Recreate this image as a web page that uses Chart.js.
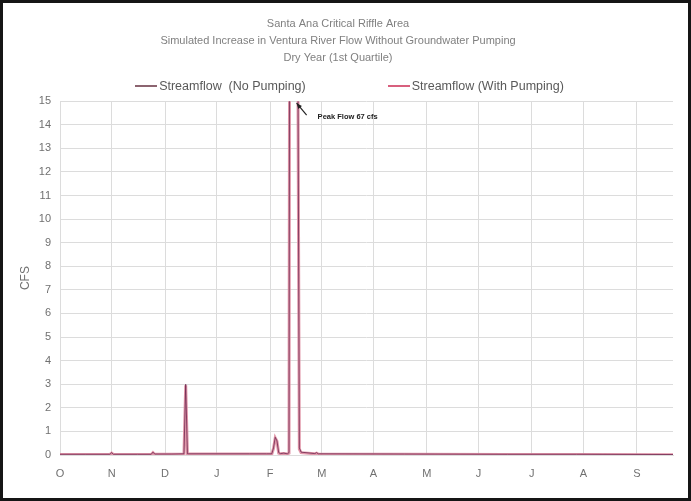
<!DOCTYPE html>
<html>
<head>
<meta charset="utf-8">
<script src="https://cdn.jsdelivr.net/npm/chart.js@4.4.1/dist/chart.umd.min.js"></script>
<style>
    html, body { margin: 0; padding: 0; background: #fff; }
    #frame {
        width: 691px; height: 501px; box-sizing: border-box;
        border: 3px solid #151515; background: #fff;
    }
    #wrap { position: relative; width: 685px; height: 495px; }
    #legend {
        position: absolute; left: 4px; top: 76px; width: 685px;
        display: flex; justify-content: center; gap: 82px;
        font: 12.5px 'Liberation Sans', Arial, sans-serif; color: #595959;
    }
    #legend .item { display: flex; align-items: center; }
    #legend .swatch { width: 22px; height: 2px; margin-right: 2px; }
</style>
</head>
<body>
<div id="frame">
    <div id="wrap">
        <canvas id="result"></canvas>
        <div id="legend"></div>
    </div>
</div>
<script>
// 标题
const titleLines = [
    'Santa Ana Critical Riffle Area',
    'Simulated Increase in Ventura River Flow Without Groundwater Pumping',
    'Dry Year (1st Quartile)'
];

// x 轴：从 10 月 1 日起的天数
const monthLabels = ['O', 'N', 'D', 'J', 'F', 'M', 'A', 'M', 'J', 'J', 'A', 'S'];
const tickDays = [0, 30, 61, 91, 122, 152, 182, 213, 243, 274, 304, 335];
const lastDay = 356;

// 数据点 (天, cfs)
const days = [0, 15, 29, 30, 31, 45, 53, 54, 55, 65, 72, 73, 74, 90, 110, 120, 123, 124, 125, 126, 127, 128,
    130, 132, 133, 134, 135, 136, 137, 138, 139, 140, 148, 149, 150, 200, 260, 300, 356];
const noPumping = [0.03, 0.03, 0.03, 0.1, 0.03, 0.03, 0.03, 0.12, 0.04, 0.04, 0.05, 3.0, 0.05, 0.05, 0.05, 0.05, 0.05, 0.3, 0.75, 0.6, 0.1, 0.06,
    0.08, 0.05, 0.1, 55, 67, 45, 30, 20, 0.3, 0.12, 0.06, 0.1, 0.05, 0.04, 0.03, 0.03, 0.02];
const withPumping = [0.02, 0.02, 0.02, 0.08, 0.02, 0.02, 0.02, 0.1, 0.03, 0.03, 0.04, 2.95, 0.04, 0.04, 0.04, 0.04, 0.04, 0.28, 0.72, 0.58, 0.08, 0.05,
    0.06, 0.04, 0.08, 54, 66, 44, 29, 19.5, 0.25, 0.1, 0.05, 0.08, 0.04, 0.03, 0.02, 0.02, 0.01];

const peakDay = 138;
const peakLabel = 'Peak Flow 67 cfs';

const seriesNames = ['Streamflow  (No Pumping)', 'Streamflow (With Pumping)'];
const seriesColors = ['rgba(110, 40, 80, 0.8)', 'rgba(222, 140, 160, 0.9)'];
const legendColors = ['#8c6470', '#d8607e'];

const toPoints = values => days.map((d, i) => ({x: d, y: values[i]}));

// 峰值标注
const peakNote = {
    id: 'peakNote',
    afterDatasetsDraw(chart) {
        const ctx = chart.ctx;
        const x = chart.scales.x.getPixelForValue(peakDay);
        const top = chart.chartArea.top;
        ctx.save();
        ctx.strokeStyle = '#222';
        ctx.fillStyle = '#222';
        ctx.lineWidth = 1.2;
        const tipX = x - 1, tipY = top + 2;
        const tailX = x + 9, tailY = top + 14;
        ctx.beginPath();
        ctx.moveTo(tailX, tailY);
        ctx.lineTo(tipX, tipY);
        ctx.stroke();
        const ang = Math.atan2(tipY - tailY, tipX - tailX);
        ctx.beginPath();
        ctx.moveTo(tipX, tipY);
        ctx.lineTo(tipX - 6 * Math.cos(ang - 0.4), tipY - 6 * Math.sin(ang - 0.4));
        ctx.lineTo(tipX - 6 * Math.cos(ang + 0.4), tipY - 6 * Math.sin(ang + 0.4));
        ctx.closePath();
        ctx.fill();
        ctx.font = 'bold 7.5px "Liberation Sans", Arial, sans-serif';
        ctx.textBaseline = 'middle';
        ctx.fillText(peakLabel, x + 20, top + 16);
        ctx.restore();
    }
};

const ctx = document.getElementById('result').getContext('2d');
const myChart = new Chart(ctx, {
    type: 'line',
    data: {
        datasets: [{
            label: seriesNames[0],
            data: toPoints(noPumping),
            borderColor: seriesColors[0],
            backgroundColor: seriesColors[0],
            borderWidth: 1,
            pointRadius: 0,
            tension: 0
        }, {
            label: seriesNames[1],
            data: toPoints(withPumping),
            borderColor: seriesColors[1],
            backgroundColor: seriesColors[1],
            borderWidth: 3,
            pointRadius: 0,
            tension: 0
        }]
    },
    plugins: [peakNote],
    options: {
        responsive: true,
        maintainAspectRatio: false,
        animation: false,
        layout: { padding: { left: 0, right: 15, top: 0, bottom: 3 } },
        scales: {
            x: {
                type: 'linear',
                min: 0,
                max: lastDay,
                afterBuildTicks: scale => { scale.ticks = tickDays.map(v => ({value: v})); },
                afterFit: scale => { scale.height = 40; },
                ticks: {
                    autoSkip: false,
                    maxRotation: 0,
                    padding: 12,
                    color: '#707070',
                    font: { family: 'Liberation Sans', size: 11 },
                    callback: (v, i) => monthLabels[i]
                },
                grid: { color: '#dcdcdc', drawTicks: false },
                border: { color: '#dcdcdc' }
            },
            y: {
                min: 0,
                max: 15,
                afterFit: scale => { scale.width = 57; },
                ticks: {
                    stepSize: 1,
                    padding: 9,
                    color: '#707070',
                    font: { family: 'Liberation Sans', size: 11 }
                },
                grid: { color: '#dcdcdc', drawTicks: false },
                border: { display: false },
                title: {
                    display: true,
                    text: 'CFS',
                    color: '#707070',
                    padding: { top: 15, bottom: 0 },
                    font: { family: 'Liberation Sans', size: 12 }
                }
            }
        },
        plugins: {
            legend: { display: false },
            tooltip: { enabled: false },
            title: {
                display: true,
                text: titleLines,
                color: '#808080',
                font: { family: 'Liberation Sans', size: 11, weight: 'normal', lineHeight: 1.55 },
                padding: { top: 12, bottom: 35 }
            }
        }
    }
});

// 图例
const legendDiv = document.getElementById('legend');
legendDiv.innerHTML = seriesNames.map((name, i) =>
    `<span class="item"><span class="swatch" style="background:${legendColors[i]}"></span>${name.replace(/ /g, '&nbsp;')}</span>`
).join('');
</script>
</body>
</html>
